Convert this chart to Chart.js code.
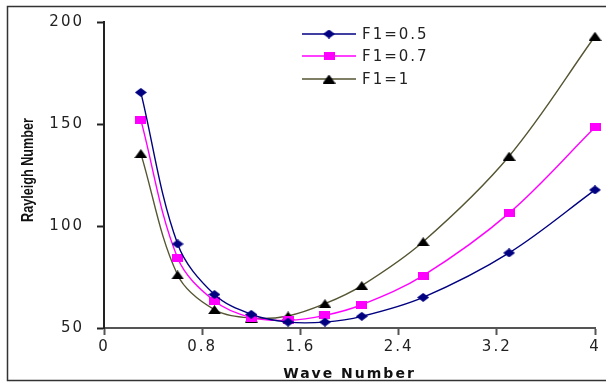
<!DOCTYPE html>
<html>
<head>
<meta charset="utf-8">
<script src="https://cdn.jsdelivr.net/npm/chart.js@4.4.1/dist/chart.umd.min.js"></script>
<style>
  html, body { margin: 0; padding: 0; background: #fff; }
  #wrap { width: 606px; height: 383px; }
</style>
</head>
<body>
<div id="wrap"><canvas id="chart" width="606" height="383"></canvas></div>
<script>
// values
const waveNumber = [0.3, 0.6, 0.9, 1.2, 1.5, 1.8, 2.1, 2.6, 3.3, 4.0];
const ra_F05 = [165.5, 91.2, 66.4, 56.7, 52.9, 52.9, 55.7, 65.0, 86.8, 117.7];
const ra_F07 = [152.0, 84.3, 63.2, 55.1, 53.8, 56.2, 61.4, 75.7, 106.3, 148.4];
const ra_F10 = [135.5, 76.0, 59.0, 54.9, 55.9, 61.9, 70.8, 92.3, 134.2, 193.0];
const seriesNames = ['F1=0.5', 'F1=0.7', 'F1=1'];
const xTicks = [0, 0.8, 1.6, 2.4, 3.2, 4];
const xTickLabels = ['0', '0.8', '1.6', '2.4', '3.2', '4'];
const yTicks = [50, 100, 150, 200];

const SPACING = '2px';

// flattened marker shapes like the old Excel export
function marker(kind, color) {
  const c = document.createElement('canvas');
  const g = c.getContext('2d');
  g.fillStyle = color;
  if (kind === 'diamond') {
    c.width = 12; c.height = 9;
    g.fillStyle = color;
    g.beginPath();
    g.moveTo(6, 0); g.lineTo(12, 4.5); g.lineTo(6, 9); g.lineTo(0, 4.5);
    g.closePath(); g.fill();
  } else if (kind === 'square') {
    c.width = 11; c.height = 8;
    g.fillStyle = color;
    g.fillRect(0, 0, 11, 8);
  } else {
    c.width = 13; c.height = 9;
    g.fillStyle = color;
    g.beginPath();
    g.moveTo(6.5, 0); g.lineTo(13, 9); g.lineTo(0, 9);
    g.closePath(); g.fill();
  }
  return c;
}

const lineColors = ['#000080', '#ff00ff', '#555533'];
const markers = [marker('diamond', '#000080'), marker('square', '#ff00ff'), marker('triangle', '#000000')];
const seriesValues = [ra_F05, ra_F07, ra_F10];

const datasets = seriesValues.map((vals, i) => ({
  label: seriesNames[i],
  data: waveNumber.map((x, j) => ({ x, y: vals[j] })),
  borderColor: lineColors[i],
  borderWidth: 1.4,
  pointStyle: markers[i],
  pointRadius: 6,
  tension: 0.35,
  clip: false
}));

const decor = {
  id: 'decor',
  beforeUpdate(chart) { chart.ctx.letterSpacing = SPACING; },
  beforeDraw(chart) { chart.ctx.letterSpacing = SPACING; },
  afterDraw(chart) {
    const ctx = chart.ctx;
    // legend inside the plot
    ctx.save();
    const rows = [34, 56, 79];
    rows.forEach((y, i) => {
      ctx.strokeStyle = lineColors[i];
      ctx.lineWidth = 1.4;
      ctx.beginPath();
      ctx.moveTo(302, y); ctx.lineTo(356, y);
      ctx.stroke();
      const m = markers[i];
      ctx.drawImage(m, 329 - m.width / 2, y - m.height / 2);
      ctx.fillStyle = '#222';
      ctx.font = '15px "DejaVu Sans"';
      ctx.letterSpacing = SPACING;
      ctx.textAlign = 'left';
      ctx.textBaseline = 'middle';
      ctx.fillText(seriesNames[i], 362, y + 1);
    });
    ctx.restore();

    // y axis title, condensed bold, squeezed to the original length
    ctx.save();
    ctx.letterSpacing = '0px';
    ctx.font = 'bold 17px "Liberation Sans", sans-serif';
    const w = ctx.measureText('Rayleigh Number').width;
    ctx.translate(28, 170);
    ctx.rotate(-Math.PI / 2);
    ctx.scale(104 / w, 1);
    ctx.fillStyle = '#111';
    ctx.textAlign = 'center';
    ctx.textBaseline = 'middle';
    ctx.fillText('Rayleigh Number', 0, 0);
    ctx.restore();

    // outer frame
    ctx.save();
    ctx.strokeStyle = '#333';
    ctx.lineWidth = 1.5;
    ctx.strokeRect(7.5, 6.5, 610, 374);
    ctx.restore();
  }
};

new Chart(document.getElementById('chart'), {
  type: 'line',
  data: { datasets },
  plugins: [decor],
  options: {
    responsive: false,
    animation: false,
    layout: { padding: { top: 11, right: 11, left: 0, bottom: 0 } },
    plugins: { legend: { display: false }, tooltip: { enabled: false } },
    scales: {
      x: {
        type: 'linear',
        min: 0,
        max: 4,
        afterBuildTicks: s => { s.ticks = xTicks.map(v => ({ value: v })); },
        afterFit: s => { s.height = 55; },
        ticks: {
          font: { family: 'DejaVu Sans', size: 15 },
          color: '#222',
          padding: 3,
          maxRotation: 0,
          callback: (v) => xTickLabels[xTicks.indexOf(v)]
        },
        grid: { drawOnChartArea: false, tickLength: 7, tickWidth: 2, tickColor: '#555' },
        border: { color: '#555', width: 2 },
        title: {
          display: true,
          text: 'Wave Number',
          color: '#111',
          font: { family: 'DejaVu Sans', size: 14, weight: 'bold' },
          padding: { top: 3, bottom: 0 }
        }
      },
      y: {
        min: 50,
        max: 200,
        afterBuildTicks: s => { s.ticks = yTicks.map(v => ({ value: v })); },
        afterFit: s => { s.width = 104; },
        ticks: {
          font: { family: 'DejaVu Sans', size: 15 },
          color: '#222',
          padding: 13
        },
        grid: { drawOnChartArea: false, tickLength: 7, tickWidth: 2, tickColor: '#222' },
        border: { color: '#222', width: 2 }
      }
    }
  }
});
</script>
</body>
</html>
